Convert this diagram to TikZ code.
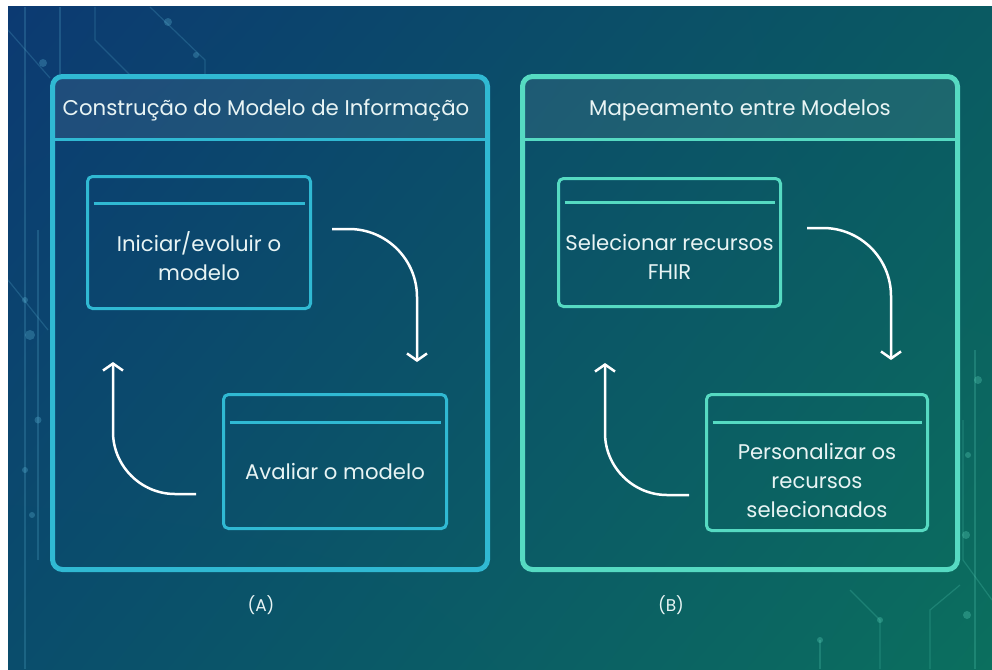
\documentclass[tikz,border=0pt]{standalone}
\usepackage{fontspec}
\setmainfont{Poppins}
\usetikzlibrary{calc,arrows.meta,shadings}

\definecolor{bgUL}{HTML}{0C3A72}
\definecolor{bgUR}{HTML}{0A5A62}
\definecolor{bgLL}{HTML}{0A4D6C}
\definecolor{bgLR}{HTML}{0B6F5E}
\definecolor{cyanA}{HTML}{30B9D3}
\definecolor{aquaB}{HTML}{56DAC2}
\definecolor{txt}{HTML}{E8F4F4}
\definecolor{traceA}{HTML}{5FB8D8}
\definecolor{traceB}{HTML}{5FD8C0}

\begin{document}
\begin{tikzpicture}[x=1pt,y=-1pt,
  panel/.style={draw=none, minimum width=435pt, minimum height=493pt, inner sep=0pt, outer sep=0pt},
  border/.style={line width=5pt, rounded corners=10pt},
  headfill/.style={fill=white, fill opacity=0.08},
  headtext/.style={text=txt, font=\fontsize{21.3}{24}\selectfont},
  boxA/.style={draw=cyanA, line width=3pt, rounded corners=5pt, inner sep=0pt, outer sep=0pt},
  boxB/.style={draw=aquaB, line width=3pt, rounded corners=5pt, inner sep=0pt, outer sep=0pt},
  sepA/.style={draw=cyanA, line width=2.5pt},
  sepB/.style={draw=aquaB, line width=2.5pt},
  boxtext/.style={text=txt, align=center, font=\fontsize{21.2}{29}\selectfont},
  labtext/.style={text=txt, font=\fontsize{17}{20}\selectfont},
  arr/.style={draw=white, line width=2.5pt, -{Straight Barb[length=7pt,width=20pt]}},
  trA/.style={draw=traceA, line width=1.2pt, opacity=0.22},
  trB/.style={draw=traceB, line width=1.2pt, opacity=0.22},
  dotA/.style={fill=traceA, opacity=0.3},
  dotB/.style={fill=traceB, opacity=0.3}
]
\useasboundingbox (0,0) rectangle (992,669);
\fill[white] (0,0) rectangle (992,669);
\shade[upper left=bgUL, upper right=bgUR, lower left=bgLL, lower right=bgLR] (8,7) rectangle (992,669);

% background traces
\draw[trA] (25,7) -- (25,669);
\draw[trA] (60,7) -- (60,75);
\draw[trA] (8,30) -- (50,78);
\draw[trA] (95,7) -- (95,40) -- (130,75);
\draw[trA] (150,7) -- (205,60) -- (205,75);
\draw[trA] (38,230) -- (38,560);
\draw[trA] (8,280) -- (48,330);
\fill[dotA] (43,63) circle (4pt);
\fill[dotA] (168,22) circle (4pt);
\fill[dotA] (196,55) circle (3pt);
\fill[dotA] (25,300) circle (3pt);
\fill[dotA] (30,335) circle (5pt);
\fill[dotA] (38,420) circle (3.5pt);
\fill[dotA] (25,470) circle (3pt);
\fill[dotA] (32,515) circle (3pt);
\draw[trB] (975,350) -- (975,669);
\draw[trB] (963,420) -- (963,560) -- (992,600);
\draw[trB] (880,669) -- (880,620) -- (850,590);
\draw[trB] (930,669) -- (930,610) -- (960,585);
\draw[trB] (820,669) -- (820,640);
\fill[dotB] (978,380) circle (4pt);
\fill[dotB] (966,535) circle (4pt);
\fill[dotB] (968,455) circle (3pt);
\fill[dotB] (967,615) circle (4pt);
\fill[dotB] (880,620) circle (3pt);
\fill[dotB] (820,640) circle (3pt);

% panel A
\node[panel] (pA) at (270,323) {};
\begin{scope}
  \clip[rounded corners=10pt] (pA.north west) rectangle (pA.south east);
  \fill[headfill] (pA.north west) rectangle ($(pA.north east)+(0,63)$);
\end{scope}
\draw[sepA, line width=3pt] ($(pA.north west)+(0,63)$) -- ($(pA.north east)+(0,63)$);
\draw[border, draw=cyanA] (pA.north west) rectangle (pA.south east);
\node[headtext] (hA) at ($(pA.north)+(-4,34)$) {Construção do Modelo de Informação};

% panel B
\node[panel] (pB) at (740,323) {};
\begin{scope}
  \clip[rounded corners=10pt] (pB.north west) rectangle (pB.south east);
  \fill[headfill] (pB.north west) rectangle ($(pB.north east)+(0,63)$);
\end{scope}
\draw[sepB, line width=3pt] ($(pB.north west)+(0,63)$) -- ($(pB.north east)+(0,63)$);
\draw[border, draw=aquaB] (pB.north west) rectangle (pB.south east);
\node[headtext] (hB) at ($(pB.north)+(0,34)$) {Mapeamento entre Modelos};

% boxes A
\node[boxA, minimum width=223pt, minimum height=132pt] (b1) at (199,242.5) {};
\draw[sepA] ($(b1.north west)+(6,27)$) -- ($(b1.north east)+(-6,27)$);
\node[boxtext] (t1) at ($(b1.center)+(0,14)$) {Iniciar/evoluir o\\modelo};

\node[boxA, minimum width=223pt, minimum height=134pt] (b2) at (335,461.5) {};
\draw[sepA] ($(b2.north west)+(6,28)$) -- ($(b2.north east)+(-6,28)$);
\node[boxtext] (t2) at ($(b2.center)+(0,10)$) {Avaliar o modelo};

% boxes B
\node[boxB, minimum width=222pt, minimum height=128pt] (b3) at (669.5,242.5) {};
\draw[sepB] ($(b3.north west)+(6,24)$) -- ($(b3.north east)+(-6,24)$);
\node[boxtext] (t3) at ($(b3.center)+(0,14)$) {Selecionar recursos\\FHIR};

\node[boxB, minimum width=221pt, minimum height=136pt] (b4) at (817,462.5) {};
\draw[sepB] ($(b4.north west)+(6,28)$) -- ($(b4.north east)+(-6,28)$);
\node[boxtext] (t4) at ($(b4.center)+(0,18)$) {Personalizar os\\recursos\\selecionados};

% arrows A
\coordinate (a1s) at (332,229);
\coordinate (a1e) at (417,362);
\draw[arr] (a1s) -- (349,229) .. controls (386.5,229) and (417,259.5) .. (417,297) -- (a1e);
\coordinate (a2s) at (196,494);
\coordinate (a2e) at (113,362);
\draw[arr] (a2s) -- (175,494) .. controls (141,494) and (113,466) .. (113,432) -- (a2e);

% arrows B
\coordinate (b1s) at (807,228);
\coordinate (b1e) at (891,360);
\draw[arr] (b1s) -- (823,228) .. controls (860.5,228) and (891,258.5) .. (891,296) -- (b1e);
\coordinate (b2s) at (689,495);
\coordinate (b2e) at (605,363);
\draw[arr] (b2s) -- (667,495) .. controls (633,495) and (605,467) .. (605,433) -- (b2e);

% labels
\node[labtext] (lA) at (261,605) {(A)};
\node[labtext] (lB) at (671,605) {(B)};
\end{tikzpicture}
\end{document}
